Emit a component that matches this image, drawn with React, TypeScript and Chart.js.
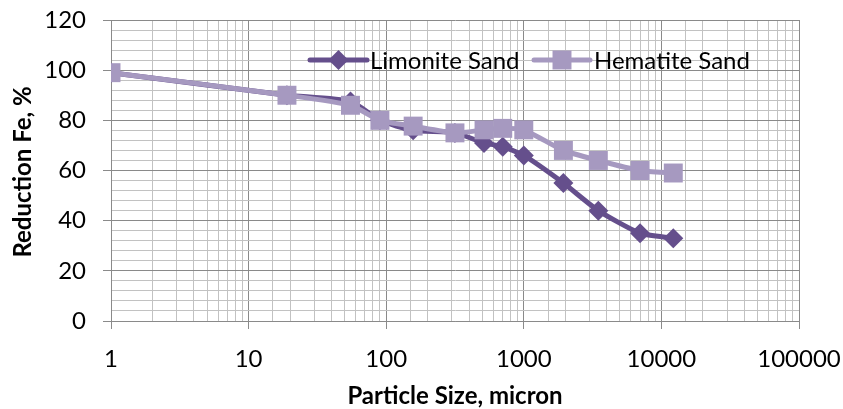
import React, { useEffect, useRef } from "react";
import { Chart, registerables } from "chart.js";

Chart.register(...registerables);

const sizes = [1, 19, 55, 90, 157, 316, 514, 703, 1000, 1940, 3480, 7000, 12200];
const limonite = [99, 90, 87.5, 80, 76, 75, 71, 69.5, 66, 55, 44, 35, 33];
const hematite = [99, 90, 86, 80, 77.7, 75, 76.2, 76.8, 76.2, 68, 64, 60, 59];
const xTickLabels = ["1", "10", "100", "1000", "10000", "100000"];
const yTickLabels = [0, 20, 40, 60, 80, 100, 120];
const seriesNames = ["Limonite Sand", "Hematite Sand"];
const seriesColors = ["#654F8C", "#A699C0"];

const FONT = "Lato, 'Open Sans', sans-serif";
const MAJOR = "#8A8A8A";
const MINOR = "#C2C2C2";

export default function App() {
  const ref = useRef<HTMLCanvasElement | null>(null);
  useEffect(() => {
    const canvas = ref.current;
    if (!canvas) return;
    const isPow10 = (v: number) => {
      const l = Math.log10(v);
      return Math.abs(l - Math.round(l)) < 1e-9;
    };
    const titlesAndLegend = {
      id: "titlesAndLegend",
      afterDraw(chart: any) {
        const ctx = chart.ctx;
        ctx.save();
        ctx.fillStyle = "#000";
        ctx.font = `bold 24px ${FONT}`;
        ctx.textAlign = "center";
        ctx.textBaseline = "middle";
        ctx.fillText("Particle Size, micron", 455, 396);
        ctx.save();
        ctx.translate(23, 172);
        ctx.rotate(-Math.PI / 2);
        ctx.fillText("Reduction Fe, %", 0, 0);
        ctx.restore();
        // legend
        const items = [
          { x0: 310, x1: 367, tx: 370 },
          { x0: 534, x1: 590, tx: 594 },
        ];
        const ly = 60;
        chart.data.datasets.forEach((ds: any, i: number) => {
          const it = items[i];
          ctx.strokeStyle = ds.borderColor;
          ctx.lineWidth = 5;
          ctx.lineCap = "round";
          ctx.beginPath();
          ctx.moveTo(it.x0, ly);
          ctx.lineTo(it.x1, ly);
          ctx.stroke();
          const cx = (it.x0 + it.x1) / 2;
          ctx.fillStyle = ds.pointBackgroundColor;
          ctx.beginPath();
          if (ds.pointStyle === "rectRot") {
            const r = ds.pointRadius;
            ctx.moveTo(cx - r, ly);
            ctx.lineTo(cx, ly - r);
            ctx.lineTo(cx + r, ly);
            ctx.lineTo(cx, ly + r);
            ctx.closePath();
          } else {
            const h = ds.pointRadius * Math.SQRT1_2;
            ctx.rect(cx - h, ly - h, 2 * h, 2 * h);
          }
          ctx.fill();
          ctx.fillStyle = "#000";
          ctx.font = `24px ${FONT}`;
          ctx.textAlign = "left";
          ctx.textBaseline = "middle";
          ctx.fillText(ds.label, it.tx, ly + 1);
        });
        ctx.restore();
      },
    };
    const chart = new Chart(canvas, {
      type: "line",
      data: {
        datasets: [
          {
            label: seriesNames[0],
            data: sizes.map((s, i) => ({ x: s, y: limonite[i] })),
            borderColor: seriesColors[0],
            backgroundColor: seriesColors[0],
            pointBackgroundColor: seriesColors[0],
            pointBorderWidth: 0,
            pointStyle: "rectRot",
            pointRadius: 10,
            borderWidth: 5,
            tension: 0.2,
            order: 1,
          },
          {
            label: seriesNames[1],
            data: sizes.map((s, i) => ({ x: s, y: hematite[i] })),
            borderColor: seriesColors[1],
            backgroundColor: seriesColors[1],
            pointBackgroundColor: seriesColors[1],
            pointBorderWidth: 0,
            pointStyle: "rect",
            pointRadius: 13.4,
            borderWidth: 5,
            tension: 0.2,
            order: 0,
          },
        ],
      },
      options: {
        animation: false,
        responsive: false,
        maintainAspectRatio: false,
        layout: { padding: { top: 20, right: 44, left: 0, bottom: 0 } },
        plugins: { legend: { display: false }, tooltip: { enabled: false } },
        scales: {
          x: {
            type: "logarithmic",
            min: 1,
            max: 100000,
            afterFit: (s: any) => {
              s.height = 88;
              s.paddingLeft = 0;
              s.paddingRight = 0;
            },
            border: { color: MAJOR, width: 1 },
            grid: {
              color: (c: any) => (c.tick && isPow10(c.tick.value) ? MAJOR : MINOR),
              tickColor: (c: any) => (c.tick && isPow10(c.tick.value) ? MAJOR : "rgba(0,0,0,0)"),
              tickLength: 8,
              lineWidth: 1,
            },
            ticks: {
              autoSkip: false,
              maxRotation: 0,
              padding: 16,
              color: "#000",
              font: { family: FONT, size: 24 },
              callback: (v: any) => {
                const s = String(v);
                return isPow10(Number(v)) && xTickLabels.includes(s) ? s : "";
              },
            },
          },
          y: {
            min: 0,
            max: 120,
            afterFit: (s: any) => {
              s.width = 111;
              s.paddingTop = 0;
              s.paddingBottom = 0;
            },
            border: { color: MAJOR, width: 1 },
            grid: {
              color: (c: any) => (c.tick && c.tick.value % 20 === 0 ? MAJOR : MINOR),
              tickColor: (c: any) => (c.tick && c.tick.value % 20 === 0 ? MAJOR : "rgba(0,0,0,0)"),
              tickLength: 8,
              lineWidth: 1,
            },
            ticks: {
              stepSize: 4,
              autoSkip: false,
              padding: 17,
              color: "#000",
              font: { family: FONT, size: 24 },
              callback: (v: any) => (yTickLabels.includes(Number(v)) ? String(v) : ""),
            },
          },
        },
      },
      plugins: [titlesAndLegend],
    } as any);
    return () => chart.destroy();
  }, []);
  return (
    <div style={{ position: "fixed", left: 0, top: 0, width: 843, height: 409, background: "#fff" }}>
      <canvas ref={ref} width={843} height={409} />
    </div>
  );
}
